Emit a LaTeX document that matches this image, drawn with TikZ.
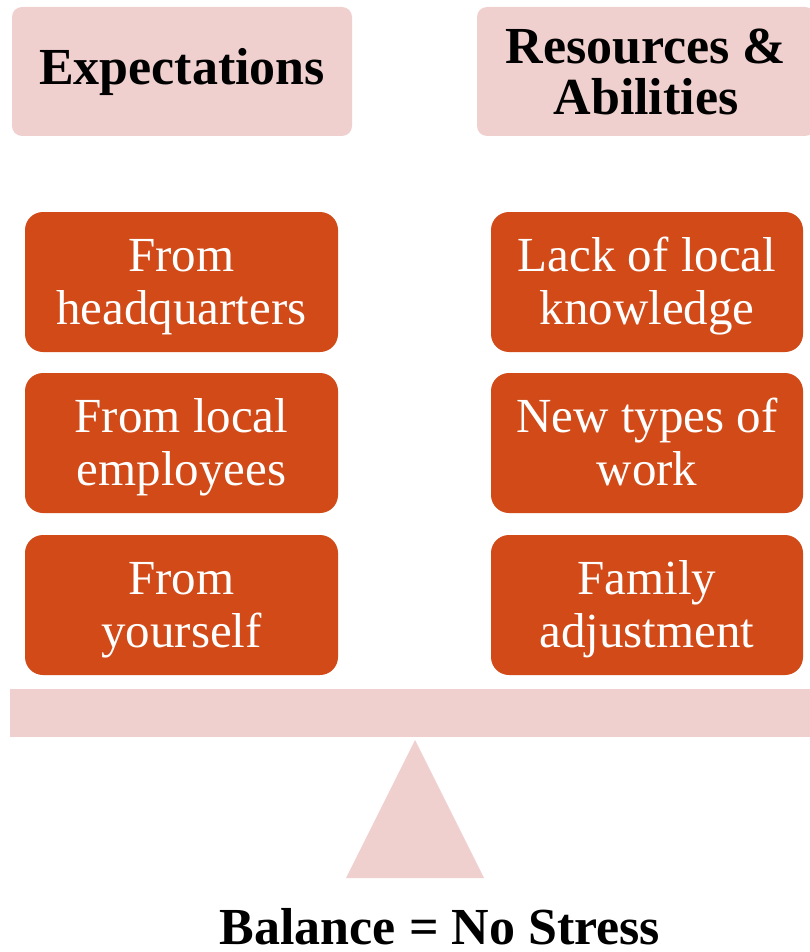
\documentclass[tikz,border=0pt]{standalone}
\usepackage{fontspec}
\setmainfont{Liberation Serif}
\definecolor{pinkc}{RGB}{239,208,206}
\definecolor{orangec}{RGB}{209,74,24}
\newcommand\twolines[2]{\raisebox{-5pt}[\height][\depth]{\begin{tabular}{@{}c@{}}#1\\#2\end{tabular}}}
\begin{document}
\begin{tikzpicture}[x=1pt,y=-1pt,
  header/.style={fill=pinkc,rounded corners=10pt,inner sep=0pt,align=center,
    font=\fontsize{52}{51}\selectfont\bfseries,text=black,minimum height=129pt},
  itembox/.style={fill=orangec,rounded corners=18pt,inner sep=0pt,align=center,
    font=\fontsize{49}{53}\selectfont,text=white,minimum height=140pt},
  leftitem/.style={itembox,minimum width=313pt},
  rightitem/.style={itembox,minimum width=312pt}]
\useasboundingbox (0,0) rectangle (809,952);
\node[header,minimum width=340pt] (hexp) at (182,71.5) {Expectations};
\node[header,minimum width=338pt] (hres) at (646,71.5) {Resources \&\\Abilities};
\node[leftitem] (l1) at (181.5,282) {\twolines{From}{headquarters}};
\node[leftitem] (l2) at (181.5,443) {\twolines{From local}{employees}};
\node[leftitem] (l3) at (181.5,605) {\twolines{From}{yourself}};
\node[rightitem] (r1) at (647,282) {\twolines{Lack of local}{knowledge}};
\node[rightitem] (r2) at (647,443) {\twolines{New types of}{work}};
\node[rightitem] (r3) at (647,605) {\twolines{Family}{adjustment}};
\fill[pinkc] (10,689) rectangle (815,737);
\fill[pinkc] (415,740) -- (484,878) -- (346,878) -- cycle;
\node[anchor=base,font=\fontsize{52}{52}\selectfont\bfseries,inner sep=0pt] (bal) at (440,944) {Balance = No Stress};
\end{tikzpicture}
\end{document}
